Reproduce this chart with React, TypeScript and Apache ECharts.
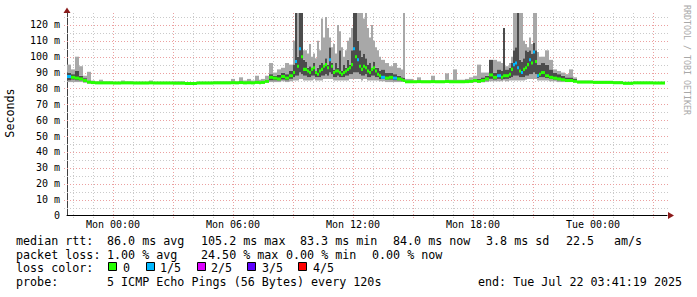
import React, { useEffect, useRef } from 'react';
import * as echarts from 'echarts';

// time in hours relative to Mon 00:00 (each value holds until the next time; last entry = end of data)
const hours = [
  -2.3, -2.1, -1.9, -1.7, -1.5, -1.3, -1.1, -0.9, -0.7, -0.5,
  0, 0.4, 0.6, 1, 1.8, 2, 3, 3.6, 4.2, 5,
  5.9, 6.1, 6.3, 6.5, 6.7, 6.9, 7.1, 7.3, 7.4, 7.6,
  7.8, 8, 8.2, 8.4, 8.6, 8.8,
  9, 9.1, 9.2, 9.3, 9.4, 9.5, 9.6, 9.7, 9.8, 9.9,
  10, 10.1, 10.2, 10.3, 10.4, 10.5, 10.6, 10.7, 10.8, 10.9,
  11, 11.1, 11.2, 11.3, 11.4, 11.5, 11.6, 11.7, 11.8, 11.9,
  12, 12.1, 12.2, 12.3, 12.4, 12.5, 12.6, 12.7, 12.8, 12.9,
  13, 13.1, 13.2, 13.3,
  13.4, 13.6, 13.8, 14, 14.2, 14.4, 14.5, 14.6, 15, 15.2,
  15.4, 15.9, 16.1, 16.6, 16.8, 17, 17.2, 17.6, 17.8, 18,
  18.2, 18.4, 18.6, 18.8, 19, 19.2, 19.4, 19.5, 19.6,
  19.8, 19.9, 20, 20.1, 20.2, 20.3, 20.4, 20.5, 20.6, 20.7,
  20.8, 20.9, 21, 21.1, 21.2, 21.3,
  21.4, 21.6, 21.8, 22, 22.2, 22.4, 22.6, 22.8, 23, 23.2,
  24, 25, 25.5, 26, 27, 27.6,
];

// median round-trip time (ms)
const medianMs = [
  87.5, 87, 86.5, 86, 85, 84, 83.7, 83.5, 83.5, 83.5,
  83.4, 83.5, 83.5, 83.4, 83.5, 83.4, 83.3, 83.1, 83.4, 83.5,
  83.6, 83.5, 83.7, 83.5, 83.6, 83.5, 83.8, 83.6, 83.8, 84.5,
  87, 86.5, 86, 87.5, 86.5, 88,
  90, 97, 94, 105, 100, 92, 92, 91, 90, 92,
  93, 90, 89, 91, 92, 94, 95, 93, 98, 94,
  90, 91, 91, 90, 89, 90, 91, 92, 93, 95,
  105, 100, 98, 94, 92, 94, 93, 91, 90, 92,
  93, 91, 89, 88,
  87, 86.5, 87, 86.5, 86, 85.5, 85, 84.2, 84.2, 84.3,
  84.2, 84.3, 84.2, 84.4, 84.2, 84.2, 84.2, 84.3, 84.5, 85,
  84.5, 85, 86, 88.5, 87, 88, 87, 88, 88,
  89, 92, 95, 96, 93, 91, 90, 92, 93, 95,
  98, 96, 103, 97, 88, 89,
  90, 88, 87, 86.5, 86, 85.5, 85, 85, 84.5, 84,
  83.8, 83.6, 83.2, 83.5, 83.4, 83.4,
];

// fastest ping (ms)
const minMs = [
  84, 84, 84, 84, 83.5, 83, 83, 83, 83, 83,
  83, 83, 83, 83, 83, 83, 82.9, 82.8, 83, 83,
  83, 83, 83.1, 83, 83, 83, 83.2, 83, 83.2, 83.5,
  84, 84, 84, 84.5, 84, 84.5,
  85, 85, 85, 86, 86, 85, 85, 85, 85, 85,
  86, 85, 85, 85, 85, 86, 86, 86, 86, 86,
  85, 85, 85, 85, 85, 85, 85, 85, 86, 86,
  86, 86, 86, 86, 85, 86, 86, 85, 85, 85,
  85, 85, 85, 84.5,
  84.5, 84, 84, 84, 84, 84, 84, 83.5, 83.5, 83.5,
  83.5, 83.5, 83.5, 83.6, 83.5, 83.5, 83.5, 83.5, 83.6, 83.8,
  83.6, 83.8, 84, 84.5, 84.5, 84.5, 84.5, 85, 84.5,
  85, 85, 85, 85, 85, 85, 85, 85, 85.5, 86,
  86, 86, 86, 86, 85, 85,
  85, 85, 84.5, 84.5, 84, 84, 84, 84, 83.8, 83.5,
  83.3, 83.2, 82.8, 83, 83, 83,
];

// second fastest ping (ms)
const lowMs = [
  85, 85.5, 85, 85, 84.5, 83.5, 83.3, 83.3, 83.3, 83.3,
  83.2, 83.3, 83.3, 83.2, 83.3, 83.2, 83.1, 83, 83.2, 83.3,
  83.3, 83.3, 83.4, 83.3, 83.4, 83.3, 83.5, 83.4, 83.6, 84,
  85, 85, 85, 85.5, 85, 86,
  87, 88, 88, 90, 89, 88, 88, 87, 87, 88,
  88, 87, 87, 87, 88, 88, 89, 88, 90, 89,
  87, 87, 88, 87, 87, 87, 88, 88, 89, 89,
  90, 90, 90, 89, 88, 88, 89, 87, 87, 88,
  88, 87, 87, 86,
  86, 85.5, 85.5, 85, 85, 84.5, 84.5, 83.8, 83.8, 83.9,
  83.8, 83.9, 83.8, 84, 83.8, 83.8, 83.8, 83.9, 84, 84.3,
  84, 84.5, 85, 86, 85.5, 86, 85.5, 86, 86,
  86.5, 87, 88, 88, 88, 87, 87, 87, 88, 88,
  89, 89, 90, 89, 86.5, 87,
  87, 86.5, 86, 85.5, 85, 85, 84.5, 84.5, 84.2, 83.8,
  83.6, 83.4, 83, 83.3, 83.2, 83.2,
];

// second slowest ping (ms)
const highMs = [
  90, 89, 91, 88, 86.5, 85, 84, 83.8, 84, 83.8,
  83.8, 84, 83.8, 83.8, 84, 83.8, 83.7, 83.5, 83.8, 83.8,
  84.2, 83.8, 84.5, 84, 84.3, 84, 84.5, 84, 84.2, 85.5,
  89, 88, 88.5, 90, 89, 91,
  95, 127.5, 100, 127.5, 127.5, 98, 97, 93, 94, 92,
  96, 91, 93, 95, 96, 94, 99, 95, 106, 96,
  92, 96, 93, 104, 91, 95, 93, 98, 95, 104,
  127.5, 127.5, 110, 104, 100, 102, 99, 95, 96, 93,
  97, 93, 93, 91,
  92, 90, 90, 89, 88, 87, 86.5, 84.5, 84.5, 85,
  84.5, 85, 84.5, 85.5, 84.5, 85, 84.5, 84.8, 85.5, 86,
  86, 87, 88, 98, 90, 92, 91, 118, 92,
  93, 96, 104, 106, 127.5, 98, 97, 99, 104, 103,
  104, 102, 108.6, 104, 95, 95,
  96, 95, 92, 90, 89, 88, 87, 87, 86, 84.5,
  84.2, 84, 83.6, 83.8, 83.7, 83.7,
];

// slowest ping (ms)
const maxMs = [
  95, 92, 100, 94, 88, 90.5, 85, 84.5, 85.5, 84.5,
  84.3, 85, 84.5, 84.3, 85, 84.3, 84.5, 84, 84.3, 84.5,
  86, 84.5, 87, 85, 86, 85, 88, 85.5, 86, 88,
  96, 90, 92, 93, 96, 95,
  110, 127.5, 127.5, 127.5, 127.5, 104, 104, 102, 108, 100,
  102, 99, 110, 104, 124, 112, 125, 118, 112, 106,
  108, 102, 120, 116, 106, 100, 104, 110, 112, 118,
  127.5, 127.5, 127.5, 127.5, 127.5, 124, 127.5, 118, 112, 120,
  110, 106, 104, 100,
  98, 96, 94, 96, 93, 92, 127.5, 86, 85, 87,
  85, 88, 85, 89.5, 85.5, 92, 85.5, 86, 87, 88,
  95, 90, 90, 98, 98, 97, 96, 118, 94,
  96, 100, 127.5, 127.5, 127.5, 127.5, 127.5, 110, 108, 106,
  112, 108, 127.5, 127.5, 103, 100,
  100, 104, 98, 92, 91, 90, 89, 92, 87, 85,
  84.8, 84.5, 84.2, 84.3, 84.2, 84.2,
];

// pings lost out of 5
const lostPings = [
  1, 0, 0, 0, 0, 0, 0, 0, 0, 0,
  0, 0, 0, 0, 0, 0, 0, 0, 0, 0,
  0, 0, 0, 0, 0, 0, 0, 0, 0, 0,
  0, 0, 0, 0, 0, 0,
  0, 1, 0, 1, 0, 0, 0, 0, 0, 0,
  0, 0, 0, 0, 0, 0, 0, 0, 1, 0,
  0, 0, 0, 0, 0, 0, 0, 0, 0, 0,
  1, 0, 1, 0, 0, 0, 0, 0, 0, 0,
  0, 0, 0, 0,
  1, 0, 0, 1, 0, 0, 0, 0, 0, 0,
  0, 0, 0, 0, 0, 0, 0, 0, 0, 0,
  0, 0, 0, 0, 0, 1, 0, 0, 0,
  0, 0, 1, 1, 1, 0, 1, 0, 0, 0,
  1, 0, 1, 0, 1, 0,
  0, 0, 0, 0, 0, 0, 0, 0, 0, 0,
  0, 0, 0, 0, 0, 0,
];

const xTickHours = [0, 6, 12, 18, 24];
const xTickLabels = ['Mon 00:00', 'Mon 06:00', 'Mon 12:00', 'Mon 18:00', 'Tue 00:00'];
const gridHours = [-2, -1, 0, 1, 2, 3, 4, 5, 6, 7, 8, 9, 10, 11, 12, 13, 14, 15, 16, 17, 18, 19, 20, 21, 22, 23, 24, 25, 26, 27];
const gridMs = [5, 10, 15, 20, 25, 30, 35, 40, 45, 50, 55, 60, 65, 70, 75, 80, 85, 90, 95, 100, 105, 110, 115, 120, 125];

const lossColors = ['#26ff00', '#00b8ff', '#dd00ff', '#5e00ff', '#ff0000'];
const lossLabels = ['0', '1/5', '2/5', '3/5', '4/5'];

const statLine1 = [
  [16, 'median rtt:'], [107, '86.0 ms avg'], [201, '105.2 ms max'], [300, '83.3 ms min'],
  [393, '84.0 ms now'], [486, '3.8 ms sd'], [566, '22.5'], [614, 'am/s'],
];
const statLine2 = [
  [16, 'packet loss:'], [107, '1.00 % avg'], [201, '24.50 % max'], [286, '0.00 % min'], [372, '0.00 % now'],
];
const statLine4 = [
  [16, 'probe:'], [107, '5 ICMP Echo Pings (56 Bytes) every 120s'], [478, 'end: Tue Jul 22 03:41:19 2025'],
];
const lossBoxX = [108, 146, 197, 247, 298];
const lossLabelX = [123, 160, 211, 262, 313];

const MONO = '"DejaVu Sans Mono", monospace';
const MEDIAN_HALF = 0.95;
const SMOKE_LIGHT = '#a8a8a8';
const SMOKE_DARK = '#4c4c4c';
const GRID_MAJOR = '#eba0a0';
const GRID_MINOR = '#cacaca';

export default function App() {
  const ref = useRef<HTMLDivElement>(null);
  useEffect(() => {
    document.body.style.margin = '0';
    if (!ref.current) return;
    const chart = echarts.init(ref.current, null, { renderer: 'svg' });

    // one item per sample: [start, end, min, low, high, max, median, lost]
    const samples = hours.slice(0, -1).map((h, i) => [
      h, hours[i + 1], minMs[i], lowMs[i], highMs[i], maxMs[i], medianMs[i], lostPings[i],
    ]);

    const bandRect = (api: any, x0: number, x1: number, lo: number, hi: number, fill: string, cs: any) => {
      const p0 = api.coord([x0, hi]);
      const p1 = api.coord([x1, lo]);
      const rect = echarts.graphic.clipRectByRect(
        { x: p0[0], y: p0[1], width: p1[0] - p0[0], height: p1[1] - p0[1] },
        { x: cs.x, y: cs.y, width: cs.width, height: cs.height },
      );
      if (!rect) return null;
      return { type: 'rect', shape: rect, style: { fill }, silent: true };
    };

    const smokeRender = (params: any, api: any) => {
      const cs = params.coordSys;
      const x0 = api.value(0), x1 = api.value(1);
      const children = [
        bandRect(api, x0, x1, api.value(2), api.value(3), SMOKE_LIGHT, cs),
        bandRect(api, x0, x1, api.value(3), api.value(4), SMOKE_DARK, cs),
        bandRect(api, x0, x1, api.value(4), api.value(5), SMOKE_LIGHT, cs),
      ].filter(Boolean);
      return { type: 'group', children };
    };

    const medianRender = (params: any, api: any) => {
      const cs = params.coordSys;
      const m = api.value(6);
      const r = bandRect(api, api.value(0), api.value(1), m - MEDIAN_HALF, m + MEDIAN_HALF, lossColors[api.value(7)], cs);
      return r || { type: 'group', children: [] };
    };

    const vGridRender = (params: any, api: any) => {
      const cs = params.coordSys;
      const h = api.value(0);
      const x = Math.round(api.coord([h, 0])[0]) + 0.5;
      return {
        type: 'line',
        silent: true,
        shape: { x1: x, y1: cs.y, x2: x, y2: cs.y + cs.height + 3 },
        style: { stroke: h % 3 === 0 ? GRID_MAJOR : GRID_MINOR, lineWidth: 1, lineDash: [1, 2] },
      };
    };
    const hGridRender = (params: any, api: any) => {
      const cs = params.coordSys;
      const v = api.value(1);
      const y = Math.round(api.coord([0, v])[1]) + 0.5;
      return {
        type: 'line',
        silent: true,
        shape: { x1: cs.x - 3, y1: y, x2: cs.x + cs.width + 1, y2: y },
        style: { stroke: v % 10 === 0 ? GRID_MAJOR : GRID_MINOR, lineWidth: 1, lineDash: [1, 2] },
      };
    };

    const text = (x: number, y: number, t: string, extra: any = {}) => ({
      type: 'text',
      x,
      y,
      silent: true,
      style: {
        text: t,
        fill: '#000',
        font: `11.7px ${MONO}`,
        align: 'left',
        textAlign: 'left',
        verticalAlign: 'middle',
        textVerticalAlign: 'middle',
        ...extra,
      },
    });

    const graphics: any[] = [];
    statLine1.forEach(([x, t]) => graphics.push(text(x as number, 241, t as string)));
    statLine2.forEach(([x, t]) => graphics.push(text(x as number, 254.5, t as string)));
    graphics.push(text(16, 268, 'loss color:'));
    lossLabels.forEach((l, i) => {
      graphics.push({
        type: 'rect',
        silent: true,
        shape: { x: lossBoxX[i] + 0.5, y: 262.5, width: 8, height: 8 },
        style: { fill: lossColors[i], stroke: '#000', lineWidth: 1 },
      });
      graphics.push(text(lossLabelX[i], 268, l));
    });
    statLine4.forEach(([x, t]) => graphics.push(text(x as number, 281.5, t as string)));
    graphics.push({
      type: 'text',
      x: 10,
      y: 113,
      rotation: Math.PI / 2,
      silent: true,
      style: {
        text: 'Seconds', fill: '#000', font: `11.7px ${MONO}`,
        align: 'center', textAlign: 'center', verticalAlign: 'middle', textVerticalAlign: 'middle',
      },
    });
    graphics.push({
      type: 'text',
      x: 687,
      y: 60,
      rotation: -Math.PI / 2,
      silent: true,
      style: {
        text: 'RRDTOOL / TOBI OETIKER', fill: '#a8a8a8', font: `8.3px ${MONO}`,
        align: 'center', textAlign: 'center', verticalAlign: 'middle', textVerticalAlign: 'middle',
      },
    });
    // axis arrows
    graphics.push({
      type: 'polygon', silent: true,
      shape: { points: [[63.5, 13], [70.5, 13], [67, 7.5]] },
      style: { fill: '#8b1a1a' },
    });
    graphics.push({
      type: 'polygon', silent: true,
      shape: { points: [[668, 212], [668, 219], [674, 215.5]] },
      style: { fill: '#8b1a1a' },
    });

    chart.setOption({
      animation: false,
      backgroundColor: '#fff',
      grid: { left: 67, right: 30, top: 13, bottom: 81.5, containLabel: false },
      xAxis: {
        type: 'value',
        min: -2.3,
        max: 27.7,
        splitLine: { show: false },
        axisLine: { show: true, onZero: false, lineStyle: { color: '#000', width: 1 } },
        axisTick: { show: false },
        axisLabel: {
          customValues: xTickHours,
          formatter: (v: number) => {
            const k = xTickHours.indexOf(v);
            return k >= 0 ? xTickLabels[k] : '';
          },
          fontFamily: MONO,
          fontSize: 10,
          color: '#000',
          margin: 4,
        },
      },
      yAxis: {
        type: 'value',
        min: 0,
        max: 127.5,
        interval: 10,
        splitLine: { show: false },
        axisLine: { show: true, onZero: false, lineStyle: { color: '#404040', width: 1 } },
        axisTick: { show: false },
        axisLabel: {
          formatter: (v: number) => (v === 0 ? '0' : v % 10 === 0 ? `${v} m` : ''),
          fontFamily: MONO,
          fontSize: 10,
          color: '#000',
          margin: 7,
        },
      },
      series: [
        {
          type: 'custom',
          name: 'grid-v',
          silent: true,
          z: 1,
          data: gridHours.map((h) => [h, 0]),
          encode: { x: 0, y: 1 },
          renderItem: vGridRender,
        },
        {
          type: 'custom',
          name: 'grid-h',
          silent: true,
          z: 1,
          data: gridMs.map((v) => [0, v]),
          encode: { x: 0, y: 1 },
          renderItem: hGridRender,
        },
        {
          type: 'custom',
          name: 'smoke',
          silent: true,
          z: 2,
          data: samples,
          encode: { x: [0, 1], y: [2, 3, 4, 5] },
          renderItem: smokeRender,
        },
        {
          type: 'custom',
          name: 'median',
          silent: true,
          z: 3,
          data: samples,
          encode: { x: [0, 1], y: [6] },
          renderItem: medianRender,
        },
      ],
      graphic: graphics,
    });
    return () => chart.dispose();
  }, []);
  return <div ref={ref} style={{ width: 697, height: 297 }} />;
}
